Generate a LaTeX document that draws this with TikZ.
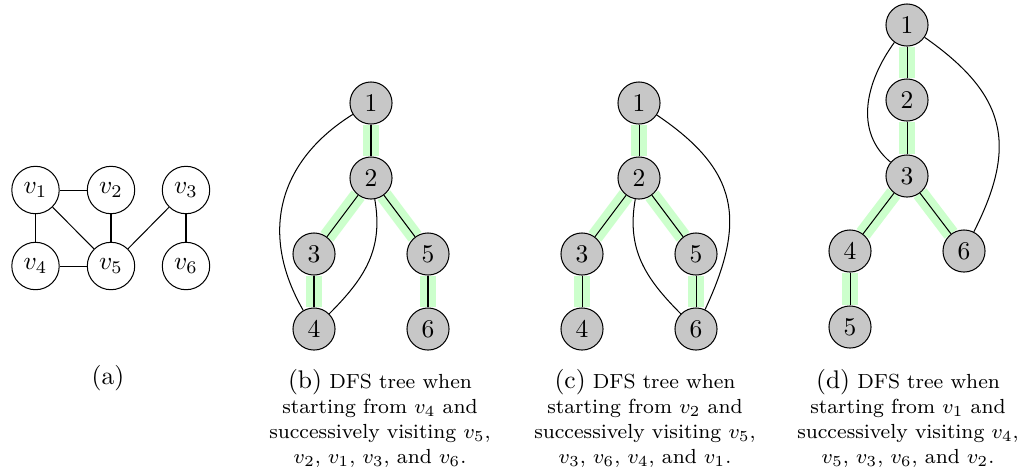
\documentclass[tikz,border=0pt]{standalone}
\usetikzlibrary{backgrounds}
\begin{document}
\begin{tikzpicture}[x=0.3922pt,y=0.3922pt,
  vnode/.style={circle,draw,minimum size=18.6pt,inner sep=0pt},
  tnode/.style={circle,draw,fill=black!22,minimum size=16.5pt,inner sep=0pt},
  band/.style={draw=green!20,line width=6.3pt},
  edge/.style={draw,line width=0.4pt},
  capt/.style={font=\footnotesize,align=center,inner sep=0pt,anchor=north}]
\useasboundingbox (0,0) rectangle (1030,-474);

% (a)
\node[vnode] (a1) at (35.5,-190) {$v_1$};
\node[vnode] (a2) at (111,-190) {$v_2$};
\node[vnode] (a3) at (186,-190) {$v_3$};
\node[vnode] (a4) at (35.5,-266) {$v_4$};
\node[vnode] (a5) at (111,-266) {$v_5$};
\node[vnode] (a6) at (186,-266) {$v_6$};
\foreach \p/\q in {a1/a2,a1/a4,a1/a5,a2/a5,a4/a5,a3/a5,a3/a6}
  \draw[edge] (\p) -- (\q);
\node[inner sep=0pt,anchor=north] (la) at (108,-365) {(a)};

% (b)
\node[tnode] (b1) at (371,-103) {1};
\node[tnode] (b2) at (371,-178) {2};
\node[tnode] (b3) at (314,-254) {3};
\node[tnode] (b5) at (428,-254) {5};
\node[tnode] (b4) at (314,-329) {4};
\node[tnode] (b6) at (428,-329) {6};

% (c)
\node[tnode] (c1) at (639,-103) {1};
\node[tnode] (c2) at (639,-178) {2};
\node[tnode] (c3) at (582,-254) {3};
\node[tnode] (c5) at (696,-254) {5};
\node[tnode] (c4) at (582,-329) {4};
\node[tnode] (c6) at (696,-329) {6};

% (d)
\node[tnode] (d1) at (907,-25) {1};
\node[tnode] (d2) at (907,-100) {2};
\node[tnode] (d3) at (907,-176) {3};
\node[tnode] (d4) at (850,-251) {4};
\node[tnode] (d6) at (964,-251) {6};
\node[tnode] (d5) at (850,-327) {5};

\begin{scope}[on background layer]
\foreach \p/\q in {b1/b2,b2/b3,b3/b4,b2/b5,b5/b6,
                   c1/c2,c2/c3,c3/c4,c2/c5,c5/c6,
                   d1/d2,d2/d3,d3/d4,d4/d5,d3/d6}
  \draw[band] (\p) -- (\q);
\end{scope}
\foreach \p/\q in {b1/b2,b2/b3,b3/b4,b2/b5,b5/b6,
                   c1/c2,c2/c3,c3/c4,c2/c5,c5/c6,
                   d1/d2,d2/d3,d3/d4,d4/d5,d3/d6}
  \draw[edge] (\p) -- (\q);

% non-tree edges
\draw[edge] (b1) to[out=212,in=120,looseness=1.12] (b4);
\draw[edge] (b2) to[out=280,in=45,looseness=1.05] (b4);
\draw[edge] (c1) to[out=-34,in=65,looseness=1.26] (c6);
\draw[edge] (c2) to[out=260,in=135,looseness=1.05] (c6);
\draw[edge] (d1) to[out=234,in=140,looseness=1.03] (d3);
\draw[edge] (d1) to[out=-35,in=63,looseness=1.26] (d6);

% captions
\node[capt] (lb) at (380,-369) {{\normalsize(b)} DFS tree when\\[0.3pt]starting from $v_4$ and\\[0.3pt]successively visiting $v_5$,\\[0.3pt]$v_2$, $v_1$, $v_3$, and $v_6$.};
\node[capt] (lc) at (645,-369) {{\normalsize(c)} DFS tree when\\[0.3pt]starting from $v_2$ and\\[0.3pt]successively visiting $v_5$,\\[0.3pt]$v_3$, $v_6$, $v_4$, and $v_1$.};
\node[capt] (ld) at (908,-369) {{\normalsize(d)} DFS tree when\\[0.3pt]starting from $v_1$ and\\[0.3pt]successively visiting $v_4$,\\[0.3pt]$v_5$, $v_3$, $v_6$, and $v_2$.};
\end{tikzpicture}
\end{document}
